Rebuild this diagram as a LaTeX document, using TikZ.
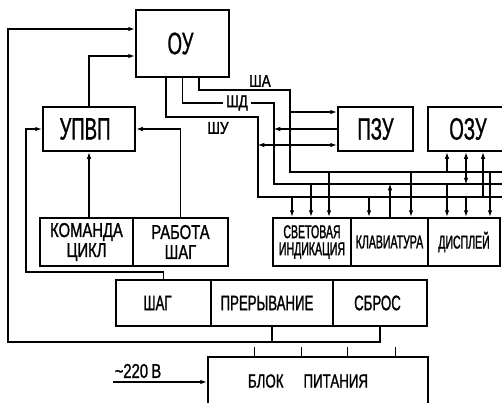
\documentclass[tikz,border=0pt]{standalone}
\usepackage{fontspec}
\setmainfont{Liberation Sans}
\newfontfamily\bigf{Liberation Sans}[FakeStretch=0.6,FakeBold=0.8]
\newfontfamily\midf{Liberation Sans}[FakeStretch=0.74,FakeBold=1.2]
\newfontfamily\botf{Liberation Sans}[FakeStretch=0.63,FakeBold=1.2]
\newfontfamily\blkf{Liberation Sans}[FakeStretch=0.7,FakeBold=1.2]
\newfontfamily\perf{Liberation Sans}[FakeStretch=0.57,FakeBold=1.4]
\newfontfamily\busf{Liberation Sans}[FakeStretch=0.8,FakeBold=1.5]
\usetikzlibrary{arrows.meta,calc}
\begin{document}
\begin{tikzpicture}[x=1pt,y=-1pt,line width=1.5pt,
  box/.style={draw, rectangle, inner sep=0pt},
  bigt/.style={font=\bigf\fontsize{31}{32}\selectfont},
  midt/.style={font=\midf\fontsize{20}{20}\selectfont},
  bott/.style={font=\botf\fontsize{21}{22}\selectfont},
  blkt/.style={font=\blkf\fontsize{19}{20}\selectfont},
  pert/.style={font=\perf\fontsize{18.5}{17}\selectfont},
  bust/.style={font=\busf\fontsize{17}{17}\selectfont, inner sep=1pt},
  arr/.style={-{Latex[length=7pt,width=4.5pt]}},
  rarr/.style={{Latex[length=7pt,width=4.5pt]}-},
  barr/.style={{Latex[length=7pt,width=4.5pt]}-{Latex[length=7pt,width=4.5pt]}}]
\useasboundingbox (0,0) rectangle (502,402);
\clip (0,0) rectangle (502,402);
% blocks
\node[box, bigt, minimum width=93pt, minimum height=67pt] (ou) at (182.5,43.5) {ОУ\hspace*{4pt}};
\node[box, bigt, minimum width=92pt, minimum height=44pt] (upvp) at (89,129) {УПВП\hspace*{8pt}};
\node[box, midt, align=center, minimum width=93pt, minimum height=48pt] (kom) at (86.5,242) {КОМАНДА\\ЦИКЛ};
\node[box, midt, align=center, minimum width=95pt, minimum height=48pt] (rab) at (180.5,242) {РАБОТА\\ШАГ};
\node[box, bigt, minimum width=75pt, minimum height=44pt] (pzu) at (375.5,129) {ПЗУ};
\node[box, bigt, minimum width=80pt, minimum height=44pt] (ozu) at (468,129) {ОЗУ};
\node[box, pert, align=center, minimum width=78pt, minimum height=48pt] (svet) at (312,242) {СВЕТОВАЯ\\ИНДИКАЦИЯ};
\node[box, pert, minimum width=77pt, minimum height=48pt] (klav) at (389.5,242) {КЛАВИАТУРА};
\node[box, pert, minimum width=72pt, minimum height=48pt] (disp) at (464,242) {ДИСПЛЕЙ};
\node[box, bott, minimum width=95pt, minimum height=46pt] (shag) at (163.5,303) {ШАГ\hspace*{12pt}};
\node[box, bott, minimum width=122pt, minimum height=46pt] (prer) at (272,303) {ПРЕРЫВАНИЕ\hspace*{10pt}};
\node[box, bott, minimum width=94pt, minimum height=46pt] (sbros) at (380,303) {СБРОС\hspace*{5pt}};
\node[box, minimum width=220pt, minimum height=63pt] (blok) at (318,388.5) {};
\node[blkt, inner sep=0pt] (bloktxt) at (308,381) {БЛОК\hspace{20pt}ПИТАНИЯ};
% feedback lines
\coordinate (bl) at (8,342);
\draw (prer.south) -- (prer.south |- bl);
\draw[arr] (sbros.south) |- (bl) |- ([yshift=14.5pt]ou.west);
\coordinate (l2) at (26,272);
\draw[arr] (shag.north) |- (l2) |- (upvp.west);
\draw[arr] (kom.north -| upvp.south) -- (upvp.south);
\draw[arr] (rab.north) |- (upvp.east);
\draw[arr] (upvp.north) |- ([yshift=-12.5pt]ou.west);
% buses
\coordinate (aT) at (290,90);  \coordinate (aE) at (510,172);
\coordinate (dT) at (274,103); \coordinate (dE) at (510,184);
\coordinate (uT) at (258,117); \coordinate (uE) at (510,197);
\draw ([xshift=16.5pt]ou.south) |- (aT) |- (aE);
\draw (ou.south) |- (dT) |- (dE);
\draw ([xshift=-16.5pt]ou.south) |- (uT) |- (uE);
\node[bust] (lA) at (260,81) {ША};
\node[bust, fill=white, inner xsep=3pt] (lD) at (237,103) {ШД};
\node[bust] (lU) at (218,128) {ШУ};
% ROM
\draw[arr] ($(pzu.west)+(-48,-17)$) -- ($(pzu.west)+(0,-17)$);
\draw[rarr] ($(pzu.west)+(-64,0)$) -- (pzu.west);
\draw[barr] ($(pzu.west)+(-80,16)$) -- ($(pzu.west)+(0,16)$);
% RAM
\draw[rarr] ($(ozu.south)+(-21,0)$) -- ($(ozu.south)+(-21,21)$);
\draw[barr] ($(ozu.south)+(-2,0)$) -- ($(ozu.south)+(-2,33)$);
\draw[rarr] ($(ozu.south)+(15,0)$) -- ($(ozu.south)+(15,46)$);
% indication
\draw[arr] ($(svet.north)+(-20,-21)$) -- ($(svet.north)+(-20,0)$);
\draw[arr] ($(svet.north)+(-1,-34)$) -- ($(svet.north)+(-1,0)$);
\draw[arr] ($(svet.north)+(17,-46)$) -- ($(svet.north)+(17,0)$);
% keyboard
\draw[arr] ($(klav.north)+(-20.5,-21)$) -- ($(klav.north)+(-20.5,0)$);
\draw[rarr] ($(klav.north)+(0.5,-34)$) -- ($(klav.north)+(0.5,0)$);
\draw[arr] ($(klav.north)+(21.5,-46)$) -- ($(klav.north)+(21.5,0)$);
% display
\draw[arr] ($(disp.north)+(-17,-34)$) -- ($(disp.north)+(-17,0)$);
\draw[arr] ($(disp.north)+(2,-21)$) -- ($(disp.north)+(2,0)$);
\draw[arr] ($(disp.north)+(26,-46)$) -- ($(disp.north)+(26,0)$);
% power
\foreach \dx in {47,94,140,188} \draw ($(blok.north west)+(\dx,0)$) -- ++(0,-9);
\coordinate (ac) at (113,382);
\draw[arr] (ac) -- ([yshift=6.5pt]blok.west);
\node[midt, inner sep=0pt] (v220) at (138,371) {\textasciitilde220\,В};
\end{tikzpicture}
\end{document}
